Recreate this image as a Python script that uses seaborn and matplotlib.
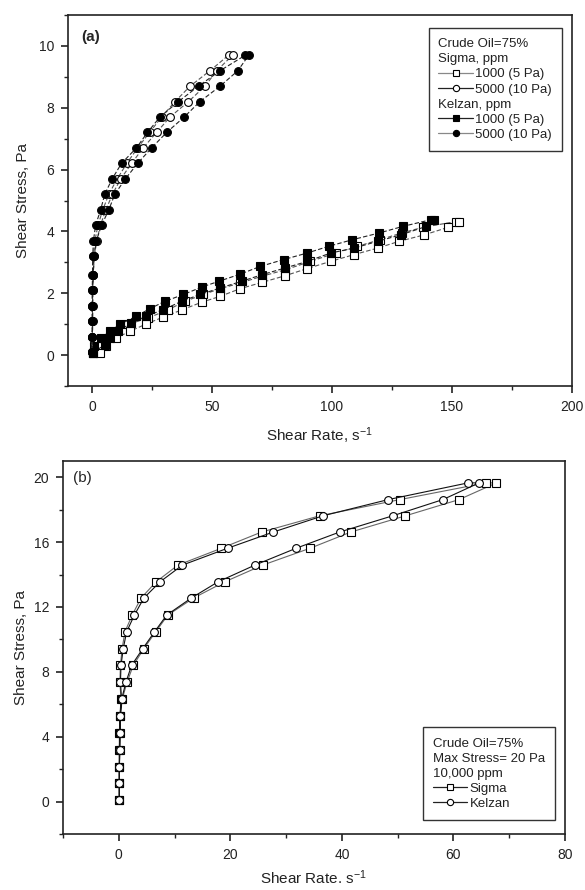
import matplotlib
matplotlib.use("Agg")
import matplotlib.pyplot as plt
import seaborn as sns
from matplotlib.lines import Line2D
from matplotlib.ticker import MultipleLocator

# ---------------- data: panel (a) ----------------
# Sigma 1000 ppm (5 Pa) - open squares
sig1000_up_rate = [0.5, 2.5, 5.5, 9.5, 15, 23.4, 31.8, 38.8, 46.4, 53.4, 61.8, 70.8, 80.6, 91, 101.5, 110.6, 120, 129, 137.8, 151.7]
sig1000_up_stress = [0.07, 0.29, 0.52, 0.75, 0.99, 1.2, 1.47, 1.74, 1.96, 2.15, 2.33, 2.55, 2.76, 3.03, 3.3, 3.52, 3.73, 3.95, 4.13, 4.32]
sig1000_dn_rate = [153, 148.3, 138.5, 128, 119, 109.2, 99.4, 89.7, 80.6, 70.8, 61.8, 53.4, 45.7, 37.7, 29.7, 22.7, 15.8, 10.2, 6, 3.2]
sig1000_dn_stress = [4.32, 4.13, 3.89, 3.68, 3.46, 3.25, 3.03, 2.8, 2.57, 2.35, 2.15, 1.9, 1.71, 1.47, 1.23, 1.01, 0.77, 0.56, 0.29, 0.07]

# Kelzan 1000 ppm (5 Pa) - filled squares
kel1000_up_rate = [0.4, 0.8, 3.9, 7.4, 11.6, 18.5, 24.1, 30.4, 38.1, 45.7, 53, 61.8, 70.2, 79.9, 89.6, 98.7, 108.4, 119.7, 129.4, 141.3]
kel1000_up_stress = [0.07, 0.29, 0.56, 0.77, 0.99, 1.26, 1.5, 1.74, 1.96, 2.2, 2.39, 2.62, 2.87, 3.09, 3.3, 3.52, 3.73, 3.95, 4.16, 4.38]
kel1000_dn_rate = [142.5, 139.2, 128.7, 119, 109.2, 99.4, 89.7, 80.6, 70.8, 62.5, 53.4, 45, 37.4, 29.7, 22.7, 16.4, 10.9, 7.5, 5.3, 0.4]
kel1000_dn_stress = [4.38, 4.16, 3.89, 3.68, 3.46, 3.3, 3.03, 2.82, 2.6, 2.39, 2.17, 1.96, 1.74, 1.47, 1.26, 1.04, 0.77, 0.56, 0.34, 0.07]

# 10 Pa series share the stress levels
stress10 = [0.1, 0.6, 1.1, 1.6, 2.1, 2.6, 3.2, 3.7, 4.2, 4.7, 5.2, 5.7, 6.2, 6.7, 7.2, 7.7, 8.2, 8.7, 9.2, 9.7]
# Sigma 5000 ppm (10 Pa) - open circles
sig5000_up_rate = [0.1, 0.1, 0.1, 0.1, 0.2, 0.3, 0.6, 1.2, 2.5, 4.5, 7, 10.5, 14.5, 19, 24, 29, 34.6, 40.9, 49.2, 56.9]
sig5000_dn_rate = [0.1, 0.1, 0.15, 0.2, 0.3, 0.5, 1.0, 2, 3.5, 5.8, 8.5, 12, 16.5, 21.3, 26.9, 32.5, 40.2, 47.1, 52, 58.6]
# Kelzan 5000 ppm (10 Pa) - filled circles
kel5000_up_rate = [0.1, 0.1, 0.1, 0.1, 0.1, 0.2, 0.3, 0.6, 1.5, 3.6, 5.3, 8.4, 12.3, 18.5, 23.1, 28.3, 36, 44.4, 53.4, 63.9]
kel5000_dn_rate = [0.2, 0.2, 0.3, 0.3, 0.4, 0.5, 0.9, 1.8, 4.0, 7.0, 9.5, 13.9, 19, 24.8, 31.1, 38.4, 45, 53.4, 60.8, 65.3]

# ---------------- data: panel (b) ----------------
stress20 = [0.1, 1.13, 2.15, 3.2, 4.2, 5.27, 6.3, 7.38, 8.4, 9.43, 10.46, 11.5, 12.55, 13.55, 14.58, 15.62, 16.62, 17.62, 18.62, 19.65]
sigB_up_rate = [0.1, 0.1, 0.1, 0.1, 0.1, 0.2, 0.4, 0.2, 0.3, 0.6, 1.1, 2.4, 4.0, 6.7, 10.6, 18.4, 25.6, 36, 50.4, 65.8]
sigB_dn_rate = [0.1, 0.1, 0.1, 0.2, 0.2, 0.3, 0.6, 1.5, 2.6, 4.5, 6.6, 8.8, 13.4, 19, 25.8, 34.3, 41.6, 51.4, 61, 67.7]
kelB_up_rate = [0.1, 0.1, 0.1, 0.1, 0.2, 0.2, 0.5, 0.3, 0.4, 0.8, 1.4, 2.8, 4.5, 7.4, 11.4, 19.5, 27.7, 36.6, 48.3, 62.6]
kelB_dn_rate = [0.1, 0.1, 0.1, 0.2, 0.2, 0.3, 0.5, 1.3, 2.3, 4.3, 6.4, 8.6, 13, 17.8, 24.4, 31.8, 39.6, 49.1, 58.1, 64.6]

legend_a = ["Crude Oil=75%", "Sigma, ppm", "1000 (5 Pa)", "5000 (10 Pa)",
            "Kelzan, ppm", "1000 (5 Pa)", "5000 (10 Pa)"]
legend_b = ["Crude Oil=75%", "Max Stress= 20 Pa", "10,000 ppm", "Sigma", "Kelzan"]

# ---------------- style ----------------
sns.set_style("ticks")
plt.rcParams['font.family'] = ['Liberation Sans', 'DejaVu Sans']
plt.rcParams['mathtext.fontset'] = 'custom'
plt.rcParams['mathtext.rm'] = 'Liberation Sans'
plt.rcParams['mathtext.it'] = 'Liberation Sans:italic'
plt.rcParams['mathtext.bf'] = 'Liberation Sans:bold'

fig = plt.figure(figsize=(5.85, 8.9), dpi=100)
W, H = 585, 890


def axes_px(left, top, right, bottom):
    return fig.add_axes([left / W, 1 - bottom / H, (right - left) / W, (bottom - top) / H])


ax1 = axes_px(68, 15, 572, 386)
ax2 = axes_px(63, 461, 565, 834)


def loop(up_x, up_y, dn_x, dn_y):
    return list(up_x) + list(dn_x), list(up_y) + list(dn_y)


dash = (0, (4, 2))


def draw(ax, x, y, marker, filled, lcolor, ls, ms):
    sns.lineplot(x=x, y=y, ax=ax, sort=False, estimator=None, color=lcolor,
                 linestyle=ls, linewidth=0.8, marker=marker, markersize=ms,
                 markerfacecolor='black' if filled else 'white',
                 markeredgecolor='black', markeredgewidth=0.8, legend=False)


# panel (a)
x, y = loop(sig1000_up_rate, sig1000_up_stress, sig1000_dn_rate, sig1000_dn_stress)
draw(ax1, x, y, 's', False, '#555555', dash, 5.4)
x, y = loop(kel1000_up_rate, kel1000_up_stress, kel1000_dn_rate, kel1000_dn_stress)
draw(ax1, x, y, 's', True, '#222222', dash, 5.4)
x, y = loop(sig5000_up_rate, stress10, sig5000_dn_rate[::-1], stress10[::-1])
draw(ax1, x, y, 'o', False, '#555555', dash, 5.6)
x, y = loop(kel5000_up_rate, stress10, kel5000_dn_rate[::-1], stress10[::-1])
draw(ax1, x, y, 'o', True, '#222222', dash, 5.6)

# panel (b)
x, y = loop(sigB_up_rate, stress20, sigB_dn_rate[::-1], stress20[::-1])
draw(ax2, x, y, 's', False, '#666666', '-', 5.4)
x, y = loop(kelB_up_rate, stress20, kelB_dn_rate[::-1], stress20[::-1])
draw(ax2, x, y, 'o', False, '#111111', '-', 5.6)

# axes formatting
for ax in (ax1, ax2):
    for s in ax.spines.values():
        s.set_linewidth(1.2)
        s.set_color('#222222')
    ax.tick_params(which='major', direction='out', length=5, width=1.2, labelsize=10, colors='#222222', pad=5)
    ax.tick_params(which='minor', direction='out', length=3, width=1.0, colors='#222222')
    ax.tick_params(top=False, right=False, which='both')
    ax.set_ylabel("Shear Stress, Pa", fontsize=11, color='#222222')

ax1.set_xlim(-10, 200)
ax1.set_ylim(-1, 11)
ax1.xaxis.set_major_locator(MultipleLocator(50))
ax1.xaxis.set_minor_locator(MultipleLocator(25))
ax1.yaxis.set_major_locator(MultipleLocator(2))
ax1.yaxis.set_minor_locator(MultipleLocator(1))
ax1.set_xlabel("Shear Rate, s$^{-1}$", fontsize=11, color='#222222', labelpad=8)
ax1.yaxis.set_label_coords(-0.075, 0.5)

ax2.set_xlim(-10, 80)
ax2.set_ylim(-2, 21)
ax2.xaxis.set_major_locator(MultipleLocator(20))
ax2.xaxis.set_minor_locator(MultipleLocator(10))
ax2.yaxis.set_major_locator(MultipleLocator(4))
ax2.yaxis.set_minor_locator(MultipleLocator(2))
ax2.set_xlabel("Shear Rate. s$^{-1}$", fontsize=11, color='#222222', labelpad=5)
ax2.yaxis.set_label_coords(-0.07, 0.5)

ax1.text(0.026, 0.94, "(a)", transform=ax1.transAxes, fontsize=11, fontweight='bold', va='center')
ax2.text(0.02, 0.955, "(b)", transform=ax2.transAxes, fontsize=11, va='center')


# legends
def build_legend(ax, labels, handles, **kw):
    hs = [h if h is not None else Line2D([], [], linestyle='none') for h in handles]
    leg = ax.legend(hs, labels, frameon=True, fancybox=False, edgecolor='#333333',
                    framealpha=1, handlelength=2.6, handletextpad=0.2, labelspacing=0.22,
                    borderpad=0.75, borderaxespad=0, fontsize=9.5, **kw)
    leg.get_frame().set_linewidth(1.0)
    rows = [hp for vp in leg._legend_handle_box.get_children() for hp in vp.get_children()]
    for hp, h in zip(rows, handles):
        if h is None:
            hp.get_children()[0].width = 0
            hp.sep = 0
    for t in leg.get_texts():
        t.set_color('#222222')
    return leg


def hnd(marker, filled, color):
    return Line2D([], [], color=color, lw=0.9, marker=marker, markersize=4.5,
                  markerfacecolor='black' if filled else 'white', markeredgecolor='black',
                  markeredgewidth=0.8)


handles_a = [None, None, hnd('s', False, '#888888'), hnd('o', False, '#222222'), None,
             hnd('s', True, '#222222'), hnd('o', True, '#888888')]
build_legend(ax1, legend_a, handles_a, loc='upper right', bbox_to_anchor=(0.980, 0.965))

handles_b = [None, None, None, hnd('s', False, '#222222'), hnd('o', False, '#222222')]
build_legend(ax2, legend_b, handles_b, loc='lower right', bbox_to_anchor=(0.980, 0.0375))

fig.savefig("out.png", dpi=100)
